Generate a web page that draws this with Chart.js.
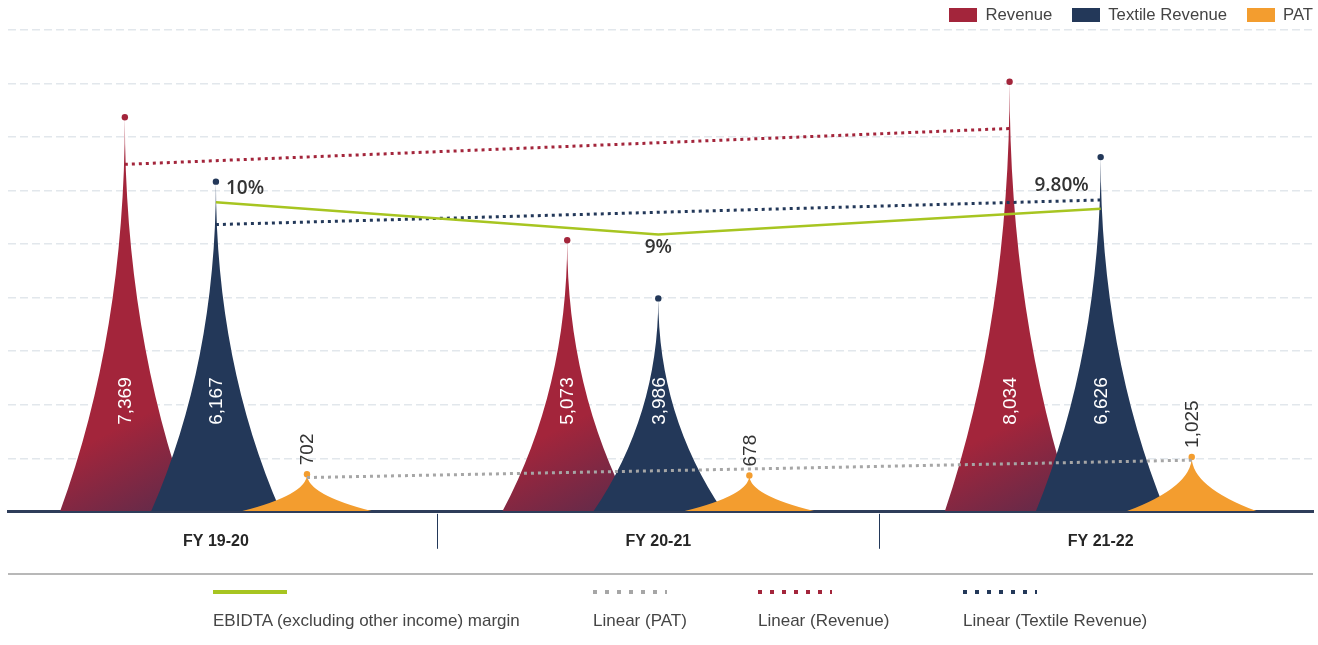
<!DOCTYPE html>
<html>
<head>
<meta charset="utf-8">
<script src="https://cdn.jsdelivr.net/npm/chart.js@4.4.0/dist/chart.umd.min.js"></script>
<style>
  html, body { margin: 0; padding: 0; background: #fff; }
  #wrap { position: relative; width: 1318px; height: 645px; overflow: hidden; font-family: "Liberation Sans", Arial, sans-serif; }
  #chart { position: absolute; left: 0; top: 0; }
  #topLegend { position: absolute; right: 5px; top: 6px; display: flex; font-size: 16.7px; color: #444; line-height: 18px; }
  #topLegend div { display: flex; align-items: center; margin-left: 20px; }
  #topLegend span { display: inline-block; width: 28px; height: 14px; margin-right: 8px; }
  #rule { position: absolute; left: 8px; width: 1305px; top: 573px; height: 2px; background: #b8b8b8; }
  .key { position: absolute; top: 590px; font-size: 17px; color: #454545; white-space: nowrap; }
  .key .sample { width: 74px; height: 4px; margin-bottom: 17px; }
</style>
</head>
<body>
<div id="wrap">
  <canvas id="chart" width="1318" height="645"></canvas>
  <div id="topLegend"></div>
  <div id="rule"></div>
  <div id="bottomLegend"></div>
</div>
<script>
// Data
const categories = ['FY 19-20', 'FY 20-21', 'FY 21-22'];
const revenue = [7369, 5073, 8034];
const textileRevenue = [6167, 3986, 6626];
const pat = [702, 678, 1025];
const ebitdaMargin = [10, 9, 9.8];
const marginLabels = ['10%', '9%', '9.80%'];
const revenueTrend = [6490, 6825, 7160];
const textileTrend = [5365, 5595, 5825];
const patTrend = [640, 800, 965];

const RED = '#a3253b';
const NAVY = '#233859';
const ORANGE = '#f39d2f';
const GREEN = '#a7c521';
const GREY = '#a6a6a6';

const CAT_PCT = 0.6176;   // spacing of the three spikes in a group
const BAR_PCT = 1.42;     // spike base is wider than its slot

// x position of series k (0..2) inside each group, so the trend lines sit on the spikes
const groupX = (k) => categories.map((c, i) => i + (k - 1) * CAT_PCT / 3);
const pts = (xs, ys) => xs.map((x, i) => ({ x: x, y: ys[i] }));

// Spikes, labels and category dividers
const spikePlugin = {
  id: 'spikes',
  beforeDatasetsDraw(chart) {
    const ctx = chart.ctx;
    ctx.save();
    chart.data.datasets.forEach((ds, di) => {
      if (ds.type !== 'bar') return;
      chart.getDatasetMeta(di).data.forEach((bar) => {
        const half = bar.width / 2;
        const h = bar.base - bar.y;
        const cy = bar.base - h * 0.45;
        let fill = ds.backgroundColor;
        if (ds.shade) {
          const g = ctx.createLinearGradient(bar.x + half * 0.25, bar.base - 95, bar.x + half, bar.base);
          g.addColorStop(0, ds.backgroundColor);
          g.addColorStop(1, ds.shade);
          fill = g;
        }
        ctx.beginPath();
        ctx.moveTo(bar.x - half, bar.base);
        ctx.quadraticCurveTo(bar.x, cy, bar.x, bar.y);
        ctx.quadraticCurveTo(bar.x, cy, bar.x + half, bar.base);
        ctx.closePath();
        ctx.fillStyle = fill;
        ctx.fill();
        ctx.beginPath();
        ctx.arc(bar.x, bar.y, 3.2, 0, Math.PI * 2);
        ctx.fillStyle = ds.backgroundColor;
        ctx.fill();
      });
    });
    ctx.restore();
  },
  beforeDatasetDraw(chart, args) {
    if (chart.data.datasets[args.index].type === 'bar') return false;
  },
  afterDatasetsDraw(chart) {
    const ctx = chart.ctx;
    ctx.save();
    chart.data.datasets.forEach((ds, di) => {
      if (ds.type !== 'bar') return;
      chart.getDatasetMeta(di).data.forEach((bar, i) => {
        const txt = ds.data[i].y.toLocaleString('en-US');
        ctx.save();
        ctx.font = '19px "Liberation Sans", Arial, sans-serif';
        ctx.textBaseline = 'middle';
        if (ds.labelInside) {
          ctx.translate(bar.x, bar.base - 110);
          ctx.rotate(-Math.PI / 2);
          ctx.textAlign = 'center';
          ctx.fillStyle = '#ffffff';
        } else {
          ctx.translate(bar.x, bar.y - 9);
          ctx.rotate(-Math.PI / 2);
          ctx.textAlign = 'left';
          ctx.fillStyle = '#333333';
        }
        ctx.fillText(txt, 0, 1);
        ctx.restore();
      });
    });
    // margin labels
    const mIdx = chart.data.datasets.findIndex(d => d.id === 'margin');
    const place = chart.options.plugins.spikes.marginPlace;
    ctx.font = '600 19px "Open Sans", "Liberation Sans", sans-serif';
    ctx.fillStyle = '#333333';
    ctx.textBaseline = 'middle';
    chart.getDatasetMeta(mIdx).data.forEach((p, i) => {
      const where = place[i];
      if (where === 'right') { ctx.textAlign = 'left'; ctx.fillText(marginLabels[i], p.x + 10, p.y - 14); }
      if (where === 'below') { ctx.textAlign = 'center'; ctx.fillText(marginLabels[i], p.x, p.y + 13); }
      if (where === 'left') { ctx.textAlign = 'right'; ctx.fillText(marginLabels[i], p.x - 12, p.y - 23); }
    });
    ctx.restore();
  },
  afterDraw(chart) {
    const ctx = chart.ctx;
    const x = chart.scales.x;
    const top = chart.chartArea.bottom + 2;
    ctx.save();
    ctx.strokeStyle = NAVY;
    ctx.lineWidth = 1;
    for (let i = 0; i < categories.length - 1; i++) {
      const px = Math.round(x.getPixelForValue(i + 0.5)) + 0.5;
      ctx.beginPath();
      ctx.moveTo(px, top);
      ctx.lineTo(px, top + 35);
      ctx.stroke();
    }
    ctx.restore();
  }
};

const ctx = document.getElementById('chart').getContext('2d');
const chart = new Chart(ctx, {
  type: 'bar',
  data: {
    datasets: [
      { type: 'bar', label: 'Revenue', data: pts(categories.map((c, i) => i), revenue), backgroundColor: RED, shade: '#5c2b4b', labelInside: true },
      { type: 'bar', label: 'Textile Revenue', data: pts(categories.map((c, i) => i), textileRevenue), backgroundColor: NAVY, labelInside: true },
      { type: 'bar', label: 'PAT', data: pts(categories.map((c, i) => i), pat), backgroundColor: ORANGE, labelInside: false },
      { type: 'line', id: 'margin', label: 'EBIDTA (excluding other income) margin', data: pts(groupX(1), ebitdaMargin), yAxisID: 'y2',
        borderColor: GREEN, borderWidth: 2.5, pointRadius: 0, fill: false },
      { type: 'line', label: 'Linear (PAT)', data: pts(groupX(2), patTrend), borderColor: GREY, borderWidth: 3, borderDash: [3, 4], pointRadius: 0 },
      { type: 'line', label: 'Linear (Revenue)', data: pts(groupX(0), revenueTrend), borderColor: RED, borderWidth: 3, borderDash: [3, 4], pointRadius: 0 },
      { type: 'line', label: 'Linear (Textile Revenue)', data: pts(groupX(1), textileTrend), borderColor: NAVY, borderWidth: 3, borderDash: [3, 4], pointRadius: 0 }
    ]
  },
  options: {
    responsive: false,
    animation: false,
    categoryPercentage: CAT_PCT,
    barPercentage: BAR_PCT,
    layout: { padding: { top: 30, left: 8, right: 5, bottom: 74 } },
    plugins: {
      legend: { display: false },
      tooltip: { enabled: false },
      spikes: { marginPlace: ['right', 'below', 'left'] }
    },
    scales: {
      x: {
        type: 'linear',
        offset: false,
        min: -0.47,
        max: 2.48,
        afterBuildTicks: (scale) => { scale.ticks = categories.map((c, i) => ({ value: i })); },
        ticks: {
          callback: (v) => categories[v],
          font: { family: '"Liberation Sans", Arial, sans-serif', size: 16, weight: 'bold' },
          color: '#262626',
          padding: 20,
          maxRotation: 0
        },
        grid: { display: true, offset: false, color: 'rgba(0,0,0,0)', drawTicks: false },
        border: { display: true, color: '#2e3d5a', width: 3 }
      },
      y: {
        min: 0,
        max: 9000,
        ticks: { stepSize: 1000, display: false },
        grid: { color: '#e2e7ec', lineWidth: 1.5, drawTicks: false },
        border: { display: false, dash: [8, 4] }
      },
      y2: { display: false, min: 0.34, max: 15.38 }
    }
  },
  plugins: [spikePlugin]
});

// Top legend for the spike series
const topLegend = document.getElementById('topLegend');
chart.data.datasets.filter(d => d.type === 'bar').forEach((d) => {
  const item = document.createElement('div');
  item.innerHTML = `<span style="background-color:${d.backgroundColor}"></span>${d.label}`;
  topLegend.appendChild(item);
});

// Bottom legend for the lines
const keyLefts = [213, 593, 758, 963];
const bottomLegend = document.getElementById('bottomLegend');
chart.data.datasets.filter(d => d.type === 'line').forEach((d, i) => {
  const key = document.createElement('div');
  key.className = 'key';
  key.style.left = keyLefts[i] + 'px';
  const bg = d.borderDash
    ? `repeating-linear-gradient(90deg, ${d.borderColor} 0 4px, transparent 4px 12px)`
    : d.borderColor;
  key.innerHTML = `<div class="sample" style="background:${bg}"></div>${d.label}`;
  bottomLegend.appendChild(key);
});
</script>
</body>
</html>
